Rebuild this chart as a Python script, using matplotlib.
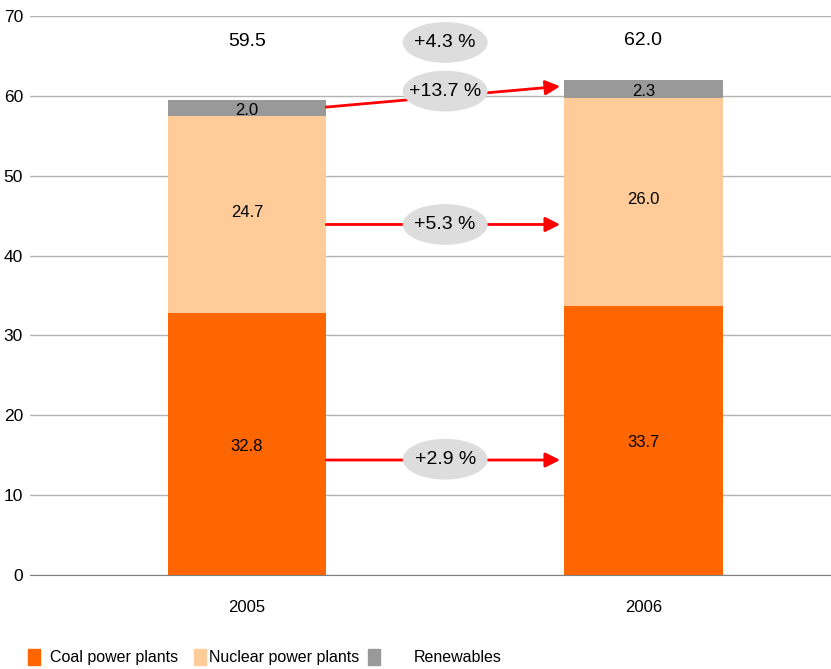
import numpy as np
import matplotlib
matplotlib.use('Agg')
import matplotlib.pyplot as plt
from matplotlib.patches import Patch, Ellipse

plt.rcParams['font.family'] = ['Liberation Sans', 'DejaVu Sans']

# data
years = ['2005', '2006']
coal = [32.8, 33.7]
nuclear = [24.7, 26.0]
renew = [2.0, 2.3]
totals = [59.5, 62.0]
changes = ['+2.9 %', '+5.3 %', '+13.7 %', '+4.3 %']
change_y = [14.5, 43.9, 60.6, 66.7]
# arrow levels (start, end) per segment
arrow_y = [(14.4, 14.4), (43.9, 43.9), (58.6, 61.2)]

c_coal = '#FF6600'
c_nuc = '#FFCC99'
c_ren = '#999999'

fig = plt.figure(figsize=(8.31, 6.69), dpi=100)
ax = fig.add_axes([0.0361, 0.1405, 0.9639, 0.8355])

x = np.arange(len(years))
w = 0.4
ax.bar(x, coal, w, color=c_coal, zorder=2)
ax.bar(x, nuclear, w, bottom=coal, color=c_nuc, zorder=2)
bot2 = np.array(coal) + np.array(nuclear)
ax.bar(x, renew, w, bottom=bot2, color=c_ren, zorder=2)

ax.set_xlim(-0.547, 1.473)
ax.set_ylim(0, 70)
ax.set_yticks(range(0, 71, 10))
ax.set_xticks(x)
ax.set_xticklabels(years)
ax.tick_params(axis='y', length=0, pad=5, labelsize=12.5)
ax.tick_params(axis='x', length=0, pad=18, labelsize=12)
ax.grid(axis='y', color='#b3b3b3', lw=1, zorder=0)
for s in ['left', 'right', 'top']:
    ax.spines[s].set_visible(False)
ax.spines['bottom'].set_color('#808080')

# segment labels
for i in range(len(years)):
    ax.text(x[i], coal[i] / 2 - 0.3, '%.1f' % coal[i], ha='center', va='center', fontsize=12, zorder=4)
    ax.text(x[i], coal[i] + nuclear[i] / 2 + 0.3, '%.1f' % nuclear[i], ha='center', va='center', fontsize=12, zorder=4)
    ax.text(x[i], bot2[i] + renew[i] / 2 - 0.3, '%.1f' % renew[i], ha='center', va='center', fontsize=12, zorder=4)
    ax.text(x[i], 66.8 + 0.2 * i, '%.1f' % totals[i], ha='center', va='center', fontsize=14, zorder=4)

# arrows
for (y0, y1) in arrow_y:
    ax.annotate('', xy=(x[1] - w / 2 - 0.01, y1), xytext=(x[0] + w / 2, y0),
                arrowprops=dict(arrowstyle='-|>', color='red', lw=2, mutation_scale=22,
                                shrinkA=0, shrinkB=0), zorder=3)

mid = (x[0] + x[1]) / 2
for lab, yy in zip(changes, change_y):
    ax.add_patch(Ellipse((mid, yy), 0.214, 5.1, fc='#dddddd', ec='none', zorder=4))
    ax.text(mid, yy, lab, ha='center', va='center', fontsize=14, zorder=5)

# legend
handles = [Patch(color=c_coal), Patch(color=c_nuc), Patch(color=c_ren)]
names = ['Coal power plants', 'Nuclear power plants', 'Renewables']
pos = [0.0337, 0.2335, 0.4428]
pads = [0.65, 0.2, 2.1]
for h, n, p, tp in zip(handles, names, pos, pads):
    fig.legend([h], [n], loc='center left', bbox_to_anchor=(p, 0.018), frameon=False,
               fontsize=11.5, handlelength=0.75, handleheight=1.2, handletextpad=tp,
               borderpad=0, borderaxespad=0)

fig.savefig('out.png', dpi=100)
